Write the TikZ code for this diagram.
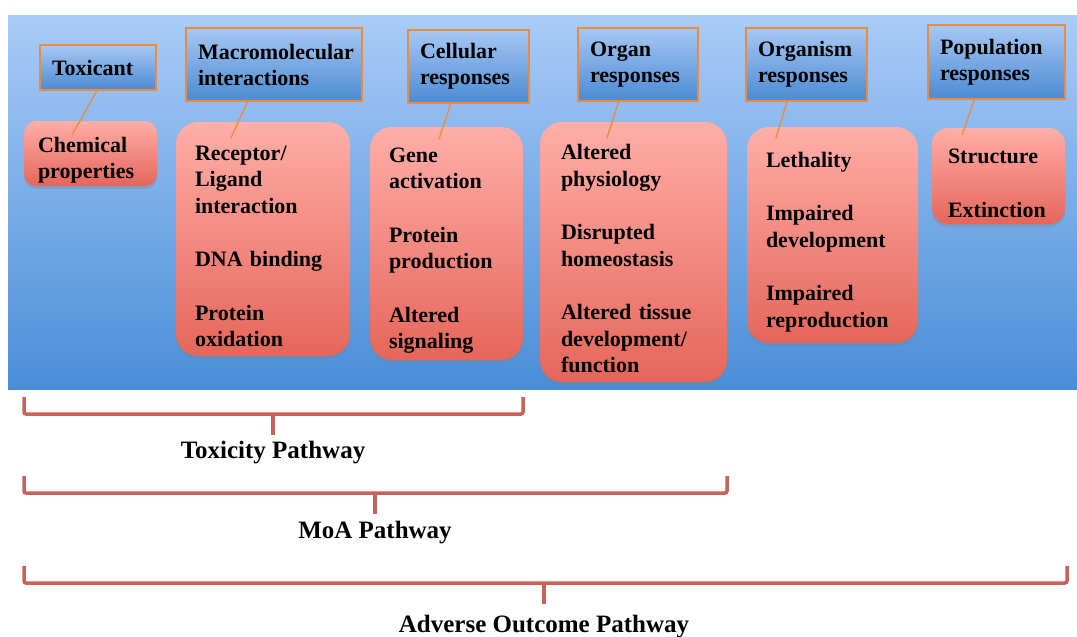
\documentclass[tikz,border=0pt]{standalone}
\usepackage{fontspec}
\setmainfont{Liberation Serif}
\usetikzlibrary{calc,shadows}

\definecolor{bgtop}{HTML}{A9CBF7}
\definecolor{bgbot}{HTML}{4A8ED8}
\definecolor{hdtop}{HTML}{A6C8F4}
\definecolor{hdbot}{HTML}{4C8AD2}
\definecolor{fxtop}{HTML}{FFAEA8}
\definecolor{fxbot}{HTML}{E5665A}
\definecolor{linkorange}{HTML}{EE8A3C}
\definecolor{bracered}{HTML}{C9625B}

\tikzset{
  levelbox/.style={draw=linkorange, line width=1.5pt, top color=hdtop, bottom color=hdbot,
    align=left, inner xsep=12pt, inner ysep=0pt,
    font=\bfseries\fontsize{22}{26}\selectfont},
  effectbox/.style={rounded corners=22pt, top color=fxtop, bottom color=fxbot,
    align=left, inner ysep=0pt,
    execute at begin node={\rule{0pt}{29pt}},
    drop shadow={shadow xshift=0pt, shadow yshift=-3pt, opacity=0.3},
    font=\bfseries\fontsize{22}{26.5}\selectfont},
  link/.style={linkorange, line width=1.3pt},
  brace/.style={bracered, line width=3.5pt, rounded corners=2pt},
  pathlabel/.style={font=\bfseries\fontsize{25}{28}\selectfont}
}

\begin{document}
\begin{tikzpicture}[x=1pt, y=-1pt]
  \useasboundingbox (0,0) rectangle (1077,637);
  % blue panel behind the levels
  \fill[top color=bgtop, bottom color=bgbot] (8,15) rectangle (1077,389);

  % effects at each level
  \node[effectbox, rounded corners=12pt, minimum width=133pt, minimum height=65pt, inner xsep=14pt, text width=105pt]
    (rChem) at (90.5,153.5) {Chemical\\properties};
  \node[effectbox, minimum width=174pt, minimum height=234pt, inner xsep=19pt, text width=136pt]
    (rMacro) at (263,239) {Receptor/\\Ligand\\interaction\\[27pt]DNA binding\\[27pt]Protein\\oxidation};
  \node[effectbox, minimum width=153pt, minimum height=233pt, inner xsep=19pt, text width=115pt]
    (rCell) at (446.5,243.5) {Gene\\activation\\[27pt]Protein\\production\\[27pt]Altered\\signaling};
  \node[effectbox, minimum width=187pt, minimum height=260pt, inner xsep=21pt, text width=145pt]
    (rOrgan) at (633.5,252) {Altered\\physiology\\[27pt]Disrupted\\homeostasis\\[27pt]Altered tissue\\development/\\function};
  \node[effectbox, minimum width=171pt, minimum height=216pt, inner xsep=19pt, text width=133pt]
    (rOrgm) at (832.5,235) {Lethality\\[27pt]Impaired\\development\\[27pt]Impaired\\reproduction};
  \node[effectbox, rounded corners=16pt, minimum width=133pt, minimum height=96pt, inner xsep=16pt, text width=101pt]
    (rPop) at (998.5,176) {Structure\\[27pt]Extinction};

  % level headers
  \node[levelbox, minimum width=116pt, minimum height=45pt, text width=92pt] (hTox) at (98,67.5) {Toxicant};
  \node[levelbox, minimum width=176pt, minimum height=73pt, text width=152pt] (hMacro) at (274,64.5) {Macromolecular\\interactions};
  \node[levelbox, minimum width=121pt, minimum height=73pt, text width=97pt] (hCell) at (468.5,66.5) {Cellular\\responses};
  \node[levelbox, minimum width=120pt, minimum height=73pt, text width=96pt] (hOrgan) at (638,64.5) {Organ\\responses};
  \node[levelbox, minimum width=121pt, minimum height=73pt, text width=97pt] (hOrgm) at (806.5,64.5) {Organism\\responses};
  \node[levelbox, minimum width=137pt, minimum height=74pt, text width=113pt] (hPop) at (996.5,62) {Population\\responses};

  % header to effect links
  \coordinate (eTox) at (72,135);
  \coordinate (eMacro) at (231,138);
  \coordinate (eCell) at (439,139);
  \coordinate (eOrgan) at (607,138);
  \coordinate (eOrgm) at (776,138);
  \coordinate (ePop) at (962,135);
  \foreach \h/\f/\e in {hTox/0.49/eTox, hMacro/0.35/eMacro, hCell/0.355/eCell,
                        hOrgan/0.34/eOrgan, hOrgm/0.34/eOrgm, hPop/0.34/ePop} {
    \draw[link] ($(\h.south west)!\f!(\h.south east)$) -- (\e);
  }

  % pathway braces
  \foreach \xl/\xr/\xm/\yb/\dy/\lab in {24/523/273/414/39/Toxicity Pathway,
                                        24/727/375/493/40/MoA Pathway,
                                        24/1067/544/583/44/Adverse Outcome Pathway} {
    \draw[brace] (\xl,\yb-17) -- (\xl,\yb) -- (\xr,\yb) -- (\xr,\yb-17);
    \draw[brace] (\xm,\yb) -- (\xm,\yb+21);
    \node[pathlabel] (p\xm) at (\xm,\yb+\dy) {\lab};
  }
\end{tikzpicture}
\end{document}
